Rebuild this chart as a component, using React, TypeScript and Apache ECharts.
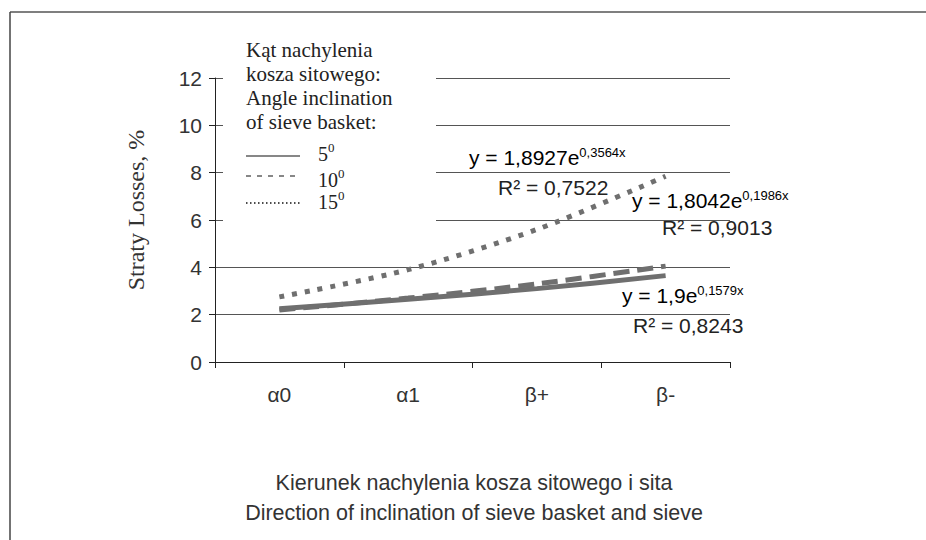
import React, { useEffect, useRef } from "react";
import * as echarts from "echarts";

const categories = ["α0", "α1", "β+", "β-"];
const s5 = [2.25, 2.65, 3.1, 3.65];
const s10 = [2.2, 2.7, 3.3, 4.05];
const s15 = [2.75, 3.9, 5.6, 7.85];
const yTicks = { min: 0, max: 12, interval: 2 };
const legendTitle = ["Kąt nachylenia", "kosza sitowego:", "Angle inclination", "of sieve basket:"];
const legendLabels = ["5", "10", "15"];
const equations = [
  { main: "y = 1,8927e", sup: "0,3564x", r2: "R² = 0,7522" },
  { main: "y = 1,8042e", sup: "0,1986x", r2: "R² = 0,9013" },
  { main: "y = 1,9e", sup: "0,1579x", r2: "R² = 0,8243" },
];

const SANS = "Liberation Sans, Arial, sans-serif";
const SERIF = "Liberation Serif, Times New Roman, serif";
const LINE = "#6f6f6f";

export default function App() {
  const ref = useRef<HTMLDivElement>(null);
  useEffect(() => {
    document.body.style.margin = "0";
    const chart = echarts.init(ref.current!, undefined, { renderer: "svg" });
    const eqPos = [
      { x: 469, y: 157, rx: 498, ry: 187 },
      { x: 632, y: 200, rx: 662, ry: 227 },
      { x: 622, y: 295, rx: 633, ry: 325 },
    ];
    const richEq = {
      m: { fontFamily: SANS, fontSize: 21, color: "#222", lineHeight: 22, verticalAlign: "bottom" as const },
      s: { fontFamily: SANS, fontSize: 13, color: "#222", lineHeight: 13, verticalAlign: "top" as const },
    };
    const graphics: any[] = [
      { type: "line", shape: { x1: 10, y1: 12, x2: 926, y2: 12 }, style: { stroke: "#555", lineWidth: 1.5 }, z: 20 },
      { type: "line", shape: { x1: 10, y1: 12, x2: 10, y2: 540 }, style: { stroke: "#444", lineWidth: 1.5 }, z: 20 },
      { type: "rect", shape: { x: 223, y: 30, width: 213, height: 198 }, style: { fill: "#fff" }, z: 5 },
    ];
    legendTitle.forEach((t, i) => {
      graphics.push({
        type: "text", x: 246, y: 50 + i * 24, z: 10,
        style: { text: t, font: `21px ${SERIF}`, fill: "#222", textVerticalAlign: "middle" },
      });
    });
    const dashes = [null, [5, 6], [1.5, 2.5]];
    const lineYs = [156, 176, 203];
    const labelYs = [154, 180, 202];
    legendLabels.forEach((t, i) => {
      const y = lineYs[i];
      graphics.push({
        type: "line", z: 10,
        shape: { x1: 246, y1: y, x2: 300, y2: y },
        style: { stroke: "#111", lineWidth: i === 2 ? 1.5 : 1.2, lineDash: dashes[i] || undefined },
      });
      const ly = labelYs[i];
      graphics.push({
        type: "text", x: 318, y: ly, z: 10,
        style: { text: t, font: `20px ${SERIF}`, fill: "#222", textVerticalAlign: "middle" },
      });
      graphics.push({
        type: "text", x: 318 + t.length * 10, y: ly - 13, z: 10,
        style: { text: "0", font: `13px ${SERIF}`, fill: "#222", textVerticalAlign: "top" },
      });
    });
    equations.forEach((e, i) => {
      const p = eqPos[i];
      graphics.push({
        type: "text", x: p.x, y: p.y, z: 10,
        style: { text: `{m|${e.main}}{s|${e.sup}}`, textVerticalAlign: "middle", rich: richEq },
      });
      graphics.push({
        type: "text", x: p.rx, y: p.ry, z: 10,
        style: { text: e.r2, font: `21px ${SANS}`, fill: "#222", textVerticalAlign: "middle" },
      });
    });
    graphics.push({
      type: "text", x: 474, y: 483, z: 10,
      style: { text: "Kierunek nachylenia kosza sitowego i sita", font: `21.5px ${SANS}`, fill: "#333", textAlign: "center", textVerticalAlign: "middle" },
    });
    graphics.push({
      type: "text", x: 474, y: 513, z: 10,
      style: { text: "Direction of inclination of sieve basket and sieve", font: `21.5px ${SANS}`, fill: "#333", textAlign: "center", textVerticalAlign: "middle" },
    });
    graphics.push({
      type: "text", x: 136, y: 210, z: 10, rotation: Math.PI / 2,
      style: { text: "Straty Losses, %", font: `24px ${SERIF}`, fill: "#333", textAlign: "center", textVerticalAlign: "middle" },
    });

    const mk = (name: string, data: number[], type: any, z: number) => ({
      name, type: "line", data, smooth: 0.3, symbol: "none", z,
      lineStyle: { color: LINE, width: 5, type, cap: "butt" },
    });

    chart.setOption({
      animation: false,
      grid: { left: 215, right: 196, top: 78, bottom: 178, containLabel: false },
      xAxis: {
        type: "category", data: categories, boundaryGap: true,
        axisLine: { lineStyle: { color: "#222", width: 1 } },
        axisTick: { show: true, interval: 0, length: 6, lineStyle: { color: "#222" } },
        axisLabel: { fontFamily: SANS, fontSize: 21, color: "#333", margin: 22 },
      },
      yAxis: {
        type: "value", min: yTicks.min, max: yTicks.max, interval: yTicks.interval,
        axisLine: { show: true, lineStyle: { color: "#222", width: 1 } },
        axisTick: { show: true, length: 6, lineStyle: { color: "#222" } },
        axisLabel: { fontFamily: SANS, fontSize: 21, color: "#333", margin: 13 },
        splitLine: { show: true, lineStyle: { color: "#555", width: 1 } },
      },
      series: [
        mk("5", s5, "solid", 2),
        mk("10", s10, [16, 8], 3),
        mk("15", s15, [5, 8], 4),
      ],
      graphic: graphics,
    });
    return () => chart.dispose();
  }, []);
  return <div ref={ref} style={{ width: 926, height: 540 }} />;
}
